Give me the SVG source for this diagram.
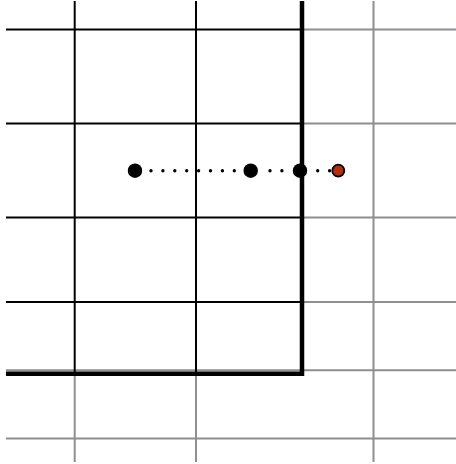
<svg xmlns="http://www.w3.org/2000/svg" width="456" height="464" viewBox="0 0 456 464">
<style>
.g{stroke:#8e8e93;stroke-width:2;fill:none}
.k{stroke:#000;stroke-width:2;fill:none}
.kt{stroke:#000;stroke-width:4.5;fill:none}
.dot{fill:#000}
.dl{stroke:#000;stroke-width:3.4;stroke-linecap:round;stroke-dasharray:0 11.9;fill:none}
</style>
<rect width="456" height="464" fill="#fff"/>
<g id="grid-gray">
<line class="g" x1="302" y1="29.5" x2="456" y2="29.5"/>
<line class="g" x1="302" y1="123.5" x2="456" y2="123.5"/>
<line class="g" x1="302" y1="217.5" x2="456" y2="217.5"/>
<line class="g" x1="302" y1="302" x2="456" y2="302"/>
<line class="g" x1="6" y1="370.3" x2="456" y2="370.3"/>
<line class="g" x1="6" y1="438.5" x2="456" y2="438.5"/>
<line class="g" x1="74.7" y1="372" x2="74.7" y2="462"/>
<line class="g" x1="196" y1="372" x2="196" y2="462"/>
<line class="g" x1="373.5" y1="1" x2="373.5" y2="462"/>
</g>
<g id="grid-black">
<line class="k" x1="6" y1="29.5" x2="302" y2="29.5"/>
<line class="k" x1="6" y1="123.5" x2="302" y2="123.5"/>
<line class="k" x1="6" y1="217.5" x2="302" y2="217.5"/>
<line class="k" x1="6" y1="302" x2="302" y2="302"/>
<line class="k" x1="74.7" y1="1" x2="74.7" y2="372"/>
<line class="k" x1="196" y1="1" x2="196" y2="372"/>
<polyline class="kt" points="302,1 302,373.7 6,373.7"/>
</g>
<g id="connectors">
<line class="dl" x1="151" y1="170.7" x2="235" y2="170.7"/>
<line class="dl" x1="270" y1="170.7" x2="282" y2="170.7"/>
<line class="dl" x1="317.7" y1="170.7" x2="330" y2="170.7"/>
</g>
<g id="p1"><circle class="dot" cx="135" cy="170.7" r="7.2"/></g>
<g id="p2"><circle class="dot" cx="250.7" cy="170.7" r="7.2"/></g>
<g id="p3"><circle class="dot" cx="300" cy="170.7" r="7.2"/></g>
<g id="p4"><circle cx="338.3" cy="170.7" r="6" fill="#b3300f" stroke="#000" stroke-width="1.8"/></g>
</svg>
